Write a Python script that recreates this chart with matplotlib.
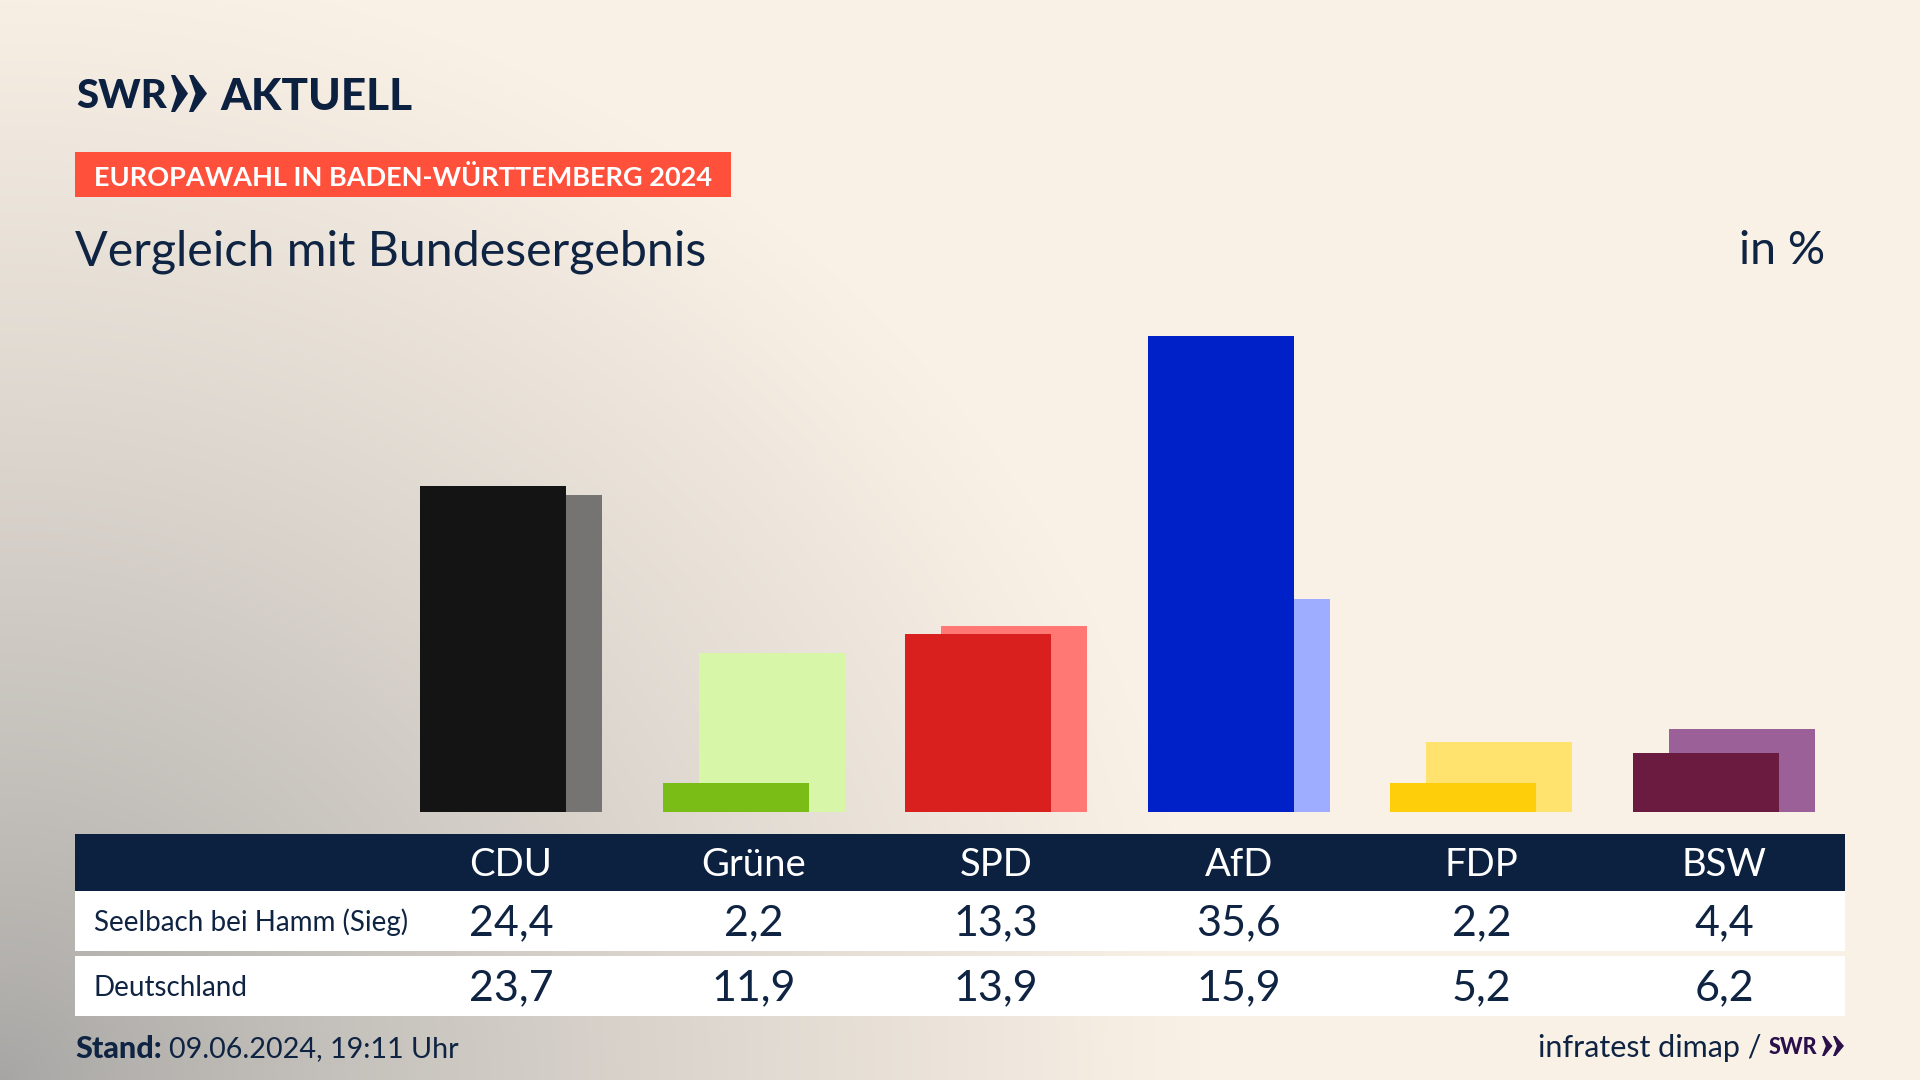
import numpy as np
import matplotlib
matplotlib.use("Agg")
import matplotlib.pyplot as plt
from matplotlib.patches import Rectangle, Polygon

parties = ["CDU", "Grüne", "SPD", "AfD", "FDP", "BSW"]
seelbach = [24.4, 2.2, 13.3, 35.6, 2.2, 4.4]
deutschland = [23.7, 11.9, 13.9, 15.9, 5.2, 6.2]
colors_main = ["#141414", "#7BBD17", "#D9201E", "#0021C8", "#FFCE0A", "#6B1A40"]
colors_back = ["#767472", "#D7F6A8", "#FF7873", "#9EADFF", "#FFE36E", "#9B6097"]
row_labels = ["Seelbach bei Hamm (Sieg)", "Deutschland"]

NAVY = "#0C2040"
TXT = "#0F2342"
plt.rcParams["font.family"] = ["Lato", "DejaVu Sans"]

W, H = 1920, 1080
fig = plt.figure(figsize=(W / 100, H / 100), dpi=100)

# background gradient
bg = fig.add_axes([0, 0, 1, 1], zorder=0)
bg.set_axis_off()
yy, xx = np.mgrid[0:H, 0:W]
d = np.sqrt((xx / 1200.0) ** 2 + ((H - yy) / 1120.0) ** 2)
t = np.clip(d, 0, 1) ** 0.8
c0 = np.array([0xA6, 0xA5, 0xA3]) / 255
c1 = np.array([0xFA, 0xF1, 0xE6]) / 255
img = c0[None, None, :] * (1 - t[..., None]) + c1[None, None, :] * t[..., None]
bg.imshow(img, extent=(0, W, H, 0), aspect="auto", interpolation="bilinear")
bg.set_xlim(0, W)
bg.set_ylim(H, 0)

# bars
PITCH = 242.6
BW = 146.0
OFF = 36.0
PX_PER = 13.38
X0 = 493.0
BASE = 812.0
TOP = 300.0
ax = fig.add_axes([75 / W, (H - BASE) / H, (1845 - 75) / W, (BASE - TOP) / H], zorder=1)
ax.patch.set_alpha(0)
ax.set_axis_off()
ax.set_xlim((75 - X0) / PITCH, (1845 - X0) / PITCH)
ax.set_ylim(0, (BASE - TOP) / PX_PER)
x = np.arange(len(parties))
ax.bar(x + OFF / PITCH, deutschland, width=BW / PITCH, color=colors_back, linewidth=0, zorder=2)
ax.bar(x, seelbach, width=BW / PITCH, color=colors_main, linewidth=0, zorder=3)

# overlay in pixel coordinates
ov = fig.add_axes([0, 0, 1, 1], zorder=2)
ov.patch.set_alpha(0)
ov.set_axis_off()
ov.set_xlim(0, W)
ov.set_ylim(H, 0)

def rect(x0, y0, x1, y1, c):
    ov.add_patch(Rectangle((x0, y0), x1 - x0, y1 - y0, fc=c, ec="none"))

def chevron(cx, y0, y1, w, c):
    ym = (y0 + y1) / 2
    f = w * 0.24
    n = w * 0.36
    ov.add_patch(Polygon([(cx, y0), (cx + f, y0), (cx + w, ym), (cx + f, y1), (cx, y1), (cx + n, ym)], fc=c, ec="none"))

# logo
ov.text(76, 108, "SWR", fontsize=29, fontweight="black", color=NAVY, va="baseline", ha="left")
chevron(171, 75, 112, 17, NAVY)
chevron(189, 75, 112, 18, NAVY)
ov.text(220, 109.5, "AKTUELL", fontsize=31.7, fontweight="black", color=NAVY, va="baseline", ha="left")

# tag & titles
rect(75, 152, 731, 197, "#FF503C")
ov.text(94, 177, "EUROPAWAHL IN BADEN-WÜRTTEMBERG 2024", fontsize=19.5, fontweight="bold", color="white", va="center", ha="left")
ov.text(75, 251.5, "Vergleich mit Bundesergebnis", fontsize=34.8, color=TXT, va="center", ha="left")
ov.text(1825, 251.5, "in %", fontsize=33.5, color=TXT, va="center", ha="right")

# table
rect(75, 834, 1845, 891, NAVY)
rect(75, 891, 1845, 951, "white")
rect(75, 956, 1845, 1016, "white")
cols = X0 + OFF / 2 + PITCH * x
for cx, p, a, b in zip(cols, parties, seelbach, deutschland):
    ov.text(cx, 865.5, p, fontsize=27.5, color="white", va="center", ha="center")
    ov.text(cx, 923, f"{a:.1f}".replace(".", ","), fontsize=31, color=TXT, va="center", ha="center")
    ov.text(cx, 988, f"{b:.1f}".replace(".", ","), fontsize=31, color=TXT, va="center", ha="center")
ov.text(94, 922, row_labels[0], fontsize=20, color=TXT, va="center", ha="left")
ov.text(94, 988, row_labels[1], fontsize=20, color=TXT, va="center", ha="left")

# footer
ov.text(75, 1049, "Stand:", fontsize=22, fontweight="black", color=TXT, va="center", ha="left")
ov.text(169, 1049, "09.06.2024, 19:11 Uhr", fontsize=20.7, color=TXT, va="center", ha="left")
ov.text(1761, 1048, "infratest dimap /", fontsize=22, color=TXT, va="center", ha="right")
ov.text(1769, 1054, "SWR", fontsize=15.5, fontweight="black", color="#2A0F4A", va="baseline", ha="left")
chevron(1822, 1036, 1056, 10.5, "#2A0F4A")
chevron(1833, 1036, 1056, 11, "#2A0F4A")

fig.savefig("out.png", dpi=100)
